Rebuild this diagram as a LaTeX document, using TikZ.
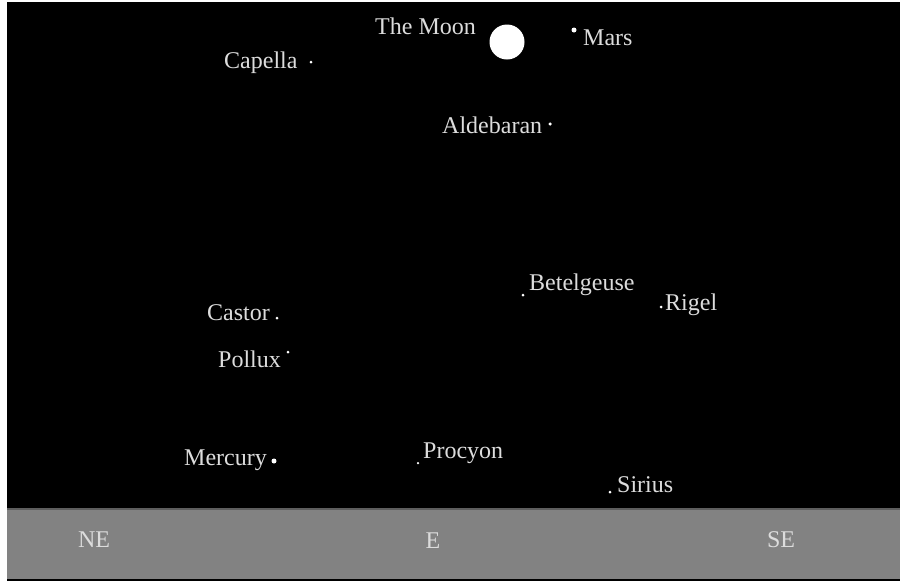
\documentclass[tikz,border=0pt]{standalone}
\usepackage{fontspec}
\setmainfont{Liberation Serif}
\usetikzlibrary{positioning}
\definecolor{sky}{HTML}{000000}
\definecolor{ground}{HTML}{828282}
\definecolor{rim}{HTML}{5E5E5E}
\definecolor{starlbl}{HTML}{DCDCDC}

\begin{document}
\begin{tikzpicture}[x=1pt,y=-1pt,
  lbl/.style={font=\fontsize{24}{24}\selectfont, text=starlbl, inner sep=0pt, anchor=base west},
  star/.style={circle, fill=white, inner sep=0pt, minimum size=#1},
  star/.default=3pt]
  \useasboundingbox (0,0) rectangle (906,584);
  % sky and horizon
  \fill[sky] (7,2) rectangle (900,581);
  \fill[ground] (7,509) rectangle (900,579);
  \draw[rim, line width=1.5pt] (7,509) -- (900,509);
  % moon
  \node[circle, fill=white, inner sep=0pt, minimum size=35pt] (moon) at (507,42) {};
  \node[lbl] (moonlbl) at (375,34) {The Moon};
  % stars and planets: name/label/label x/label y/dot x/dot y/dot size
  \foreach \nm/\txt/\lx/\ly/\sx/\sy/\sz in {
     mars/Mars/583/45/574/30/5pt,
     capella/Capella/224/68/311/62/3pt,
     aldebaran/Aldebaran/442/133/550/124/3.5pt,
     betelgeuse/Betelgeuse/529/290/523/295/3pt,
     rigel/Rigel/665/310/661/307/3pt,
     castor/Castor/207/320/277/318/3pt,
     pollux/Pollux/218/367/288/352/3pt,
     mercury/Mercury/184/465/274/461/5pt,
     procyon/Procyon/423/458/418/463/2.5pt,
     sirius/Sirius/617/492/610/492/3pt}
  {
    \node[star=\sz] (\nm-dot) at (\sx,\sy) {};
    \node[lbl] (\nm) at (\lx,\ly) {\txt};
  }
  % compass points
  \node[lbl, anchor=center] (ne) at (94,540) {NE};
  \node[lbl, anchor=center] (east) at (433,541) {E};
  \node[lbl, anchor=center] (se) at (781,540) {SE};
\end{tikzpicture}
\end{document}
